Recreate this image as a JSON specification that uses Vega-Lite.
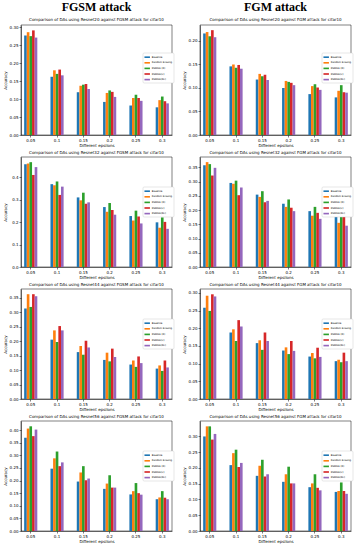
{
"$schema": "https://vega.github.io/schema/vega-lite/v6.json",
"padding": {"left": 2, "top": 0, "right": 0, "bottom": 0},
"datasets": {
"p1": [
{"e":"0.05","k":"Baseline","v":0.277},{"e":"0.05","k":"Random Erasing","v":0.286},{"e":"0.05","k":"RSMDA (R)","v":0.275},{"e":"0.05","k":"RSMDA(C)","v":0.291},{"e":"0.05","k":"RSMDA(RC)","v":0.271},
{"e":"0.1","k":"Baseline","v":0.162},{"e":"0.1","k":"Random Erasing","v":0.180},{"e":"0.1","k":"RSMDA (R)","v":0.170},{"e":"0.1","k":"RSMDA(C)","v":0.182},{"e":"0.1","k":"RSMDA(RC)","v":0.166},
{"e":"0.15","k":"Baseline","v":0.119},{"e":"0.15","k":"Random Erasing","v":0.137},{"e":"0.15","k":"RSMDA (R)","v":0.140},{"e":"0.15","k":"RSMDA(C)","v":0.142},{"e":"0.15","k":"RSMDA(RC)","v":0.128},
{"e":"0.2","k":"Baseline","v":0.092},{"e":"0.2","k":"Random Erasing","v":0.117},{"e":"0.2","k":"RSMDA (R)","v":0.124},{"e":"0.2","k":"RSMDA(C)","v":0.120},{"e":"0.2","k":"RSMDA(RC)","v":0.106},
{"e":"0.25","k":"Baseline","v":0.082},{"e":"0.25","k":"Random Erasing","v":0.103},{"e":"0.25","k":"RSMDA (R)","v":0.112},{"e":"0.25","k":"RSMDA(C)","v":0.103},{"e":"0.25","k":"RSMDA(RC)","v":0.095},
{"e":"0.3","k":"Baseline","v":0.077},{"e":"0.3","k":"Random Erasing","v":0.097},{"e":"0.3","k":"RSMDA (R)","v":0.107},{"e":"0.3","k":"RSMDA(C)","v":0.094},{"e":"0.3","k":"RSMDA(RC)","v":0.088}
],
"p2": [
{"e":"0.05","k":"Baseline","v":0.216},{"e":"0.05","k":"Random Erasing","v":0.219},{"e":"0.05","k":"RSMDA (R)","v":0.210},{"e":"0.05","k":"RSMDA(C)","v":0.223},{"e":"0.05","k":"RSMDA(RC)","v":0.208},
{"e":"0.1","k":"Baseline","v":0.146},{"e":"0.1","k":"Random Erasing","v":0.150},{"e":"0.1","k":"RSMDA (R)","v":0.143},{"e":"0.1","k":"RSMDA(C)","v":0.149},{"e":"0.1","k":"RSMDA(RC)","v":0.141},
{"e":"0.15","k":"Baseline","v":0.118},{"e":"0.15","k":"Random Erasing","v":0.130},{"e":"0.15","k":"RSMDA (R)","v":0.125},{"e":"0.15","k":"RSMDA(C)","v":0.128},{"e":"0.15","k":"RSMDA(RC)","v":0.117},
{"e":"0.2","k":"Baseline","v":0.100},{"e":"0.2","k":"Random Erasing","v":0.115},{"e":"0.2","k":"RSMDA (R)","v":0.113},{"e":"0.2","k":"RSMDA(C)","v":0.111},{"e":"0.2","k":"RSMDA(RC)","v":0.106},
{"e":"0.25","k":"Baseline","v":0.087},{"e":"0.25","k":"Random Erasing","v":0.104},{"e":"0.25","k":"RSMDA (R)","v":0.108},{"e":"0.25","k":"RSMDA(C)","v":0.101},{"e":"0.25","k":"RSMDA(RC)","v":0.096},
{"e":"0.3","k":"Baseline","v":0.080},{"e":"0.3","k":"Random Erasing","v":0.094},{"e":"0.3","k":"RSMDA (R)","v":0.106},{"e":"0.3","k":"RSMDA(C)","v":0.091},{"e":"0.3","k":"RSMDA(RC)","v":0.090}
],
"p3": [
{"e":"0.05","k":"Baseline","v":0.458},{"e":"0.05","k":"Random Erasing","v":0.461},{"e":"0.05","k":"RSMDA (R)","v":0.467},{"e":"0.05","k":"RSMDA(C)","v":0.410},{"e":"0.05","k":"RSMDA(RC)","v":0.445},
{"e":"0.1","k":"Baseline","v":0.369},{"e":"0.1","k":"Random Erasing","v":0.364},{"e":"0.1","k":"RSMDA (R)","v":0.381},{"e":"0.1","k":"RSMDA(C)","v":0.321},{"e":"0.1","k":"RSMDA(RC)","v":0.358},
{"e":"0.15","k":"Baseline","v":0.310},{"e":"0.15","k":"Random Erasing","v":0.297},{"e":"0.15","k":"RSMDA (R)","v":0.331},{"e":"0.15","k":"RSMDA(C)","v":0.282},{"e":"0.15","k":"RSMDA(RC)","v":0.288},
{"e":"0.2","k":"Baseline","v":0.267},{"e":"0.2","k":"Random Erasing","v":0.246},{"e":"0.2","k":"RSMDA (R)","v":0.285},{"e":"0.2","k":"RSMDA(C)","v":0.254},{"e":"0.2","k":"RSMDA(RC)","v":0.233},
{"e":"0.25","k":"Baseline","v":0.227},{"e":"0.25","k":"Random Erasing","v":0.207},{"e":"0.25","k":"RSMDA (R)","v":0.251},{"e":"0.25","k":"RSMDA(C)","v":0.225},{"e":"0.25","k":"RSMDA(RC)","v":0.194},
{"e":"0.3","k":"Baseline","v":0.199},{"e":"0.3","k":"Random Erasing","v":0.175},{"e":"0.3","k":"RSMDA (R)","v":0.221},{"e":"0.3","k":"RSMDA(C)","v":0.201},{"e":"0.3","k":"RSMDA(RC)","v":0.170}
],
"p4": [
{"e":"0.05","k":"Baseline","v":0.357},{"e":"0.05","k":"Random Erasing","v":0.368},{"e":"0.05","k":"RSMDA (R)","v":0.361},{"e":"0.05","k":"RSMDA(C)","v":0.321},{"e":"0.05","k":"RSMDA(RC)","v":0.348},
{"e":"0.1","k":"Baseline","v":0.295},{"e":"0.1","k":"Random Erasing","v":0.292},{"e":"0.1","k":"RSMDA (R)","v":0.303},{"e":"0.1","k":"RSMDA(C)","v":0.252},{"e":"0.1","k":"RSMDA(RC)","v":0.279},
{"e":"0.15","k":"Baseline","v":0.254},{"e":"0.15","k":"Random Erasing","v":0.246},{"e":"0.15","k":"RSMDA (R)","v":0.266},{"e":"0.15","k":"RSMDA(C)","v":0.227},{"e":"0.15","k":"RSMDA(RC)","v":0.232},
{"e":"0.2","k":"Baseline","v":0.222},{"e":"0.2","k":"Random Erasing","v":0.211},{"e":"0.2","k":"RSMDA (R)","v":0.237},{"e":"0.2","k":"RSMDA(C)","v":0.208},{"e":"0.2","k":"RSMDA(RC)","v":0.196},
{"e":"0.25","k":"Baseline","v":0.196},{"e":"0.25","k":"Random Erasing","v":0.180},{"e":"0.25","k":"RSMDA (R)","v":0.211},{"e":"0.25","k":"RSMDA(C)","v":0.190},{"e":"0.25","k":"RSMDA(RC)","v":0.169},
{"e":"0.3","k":"Baseline","v":0.176},{"e":"0.3","k":"Random Erasing","v":0.155},{"e":"0.3","k":"RSMDA (R)","v":0.185},{"e":"0.3","k":"RSMDA(C)","v":0.178},{"e":"0.3","k":"RSMDA(RC)","v":0.145}
],
"p5": [
{"e":"0.05","k":"Baseline","v":0.313},{"e":"0.05","k":"Random Erasing","v":0.362},{"e":"0.05","k":"RSMDA (R)","v":0.318},{"e":"0.05","k":"RSMDA(C)","v":0.362},{"e":"0.05","k":"RSMDA(RC)","v":0.355},
{"e":"0.1","k":"Baseline","v":0.205},{"e":"0.1","k":"Random Erasing","v":0.237},{"e":"0.1","k":"RSMDA (R)","v":0.197},{"e":"0.1","k":"RSMDA(C)","v":0.252},{"e":"0.1","k":"RSMDA(RC)","v":0.237},
{"e":"0.15","k":"Baseline","v":0.162},{"e":"0.15","k":"Random Erasing","v":0.183},{"e":"0.15","k":"RSMDA (R)","v":0.153},{"e":"0.15","k":"RSMDA(C)","v":0.201},{"e":"0.15","k":"RSMDA(RC)","v":0.178},
{"e":"0.2","k":"Baseline","v":0.135},{"e":"0.2","k":"Random Erasing","v":0.160},{"e":"0.2","k":"RSMDA (R)","v":0.130},{"e":"0.2","k":"RSMDA(C)","v":0.174},{"e":"0.2","k":"RSMDA(RC)","v":0.145},
{"e":"0.25","k":"Baseline","v":0.119},{"e":"0.25","k":"Random Erasing","v":0.133},{"e":"0.25","k":"RSMDA (R)","v":0.111},{"e":"0.25","k":"RSMDA(C)","v":0.147},{"e":"0.25","k":"RSMDA(RC)","v":0.124},
{"e":"0.3","k":"Baseline","v":0.105},{"e":"0.3","k":"Random Erasing","v":0.116},{"e":"0.3","k":"RSMDA (R)","v":0.097},{"e":"0.3","k":"RSMDA(C)","v":0.133},{"e":"0.3","k":"RSMDA(RC)","v":0.109}
],
"p6": [
{"e":"0.05","k":"Baseline","v":0.258},{"e":"0.05","k":"Random Erasing","v":0.292},{"e":"0.05","k":"RSMDA (R)","v":0.249},{"e":"0.05","k":"RSMDA(C)","v":0.296},{"e":"0.05","k":"RSMDA(RC)","v":0.290},
{"e":"0.1","k":"Baseline","v":0.188},{"e":"0.1","k":"Random Erasing","v":0.197},{"e":"0.1","k":"RSMDA (R)","v":0.164},{"e":"0.1","k":"RSMDA(C)","v":0.223},{"e":"0.1","k":"RSMDA(RC)","v":0.205},
{"e":"0.15","k":"Baseline","v":0.158},{"e":"0.15","k":"Random Erasing","v":0.166},{"e":"0.15","k":"RSMDA (R)","v":0.139},{"e":"0.15","k":"RSMDA(C)","v":0.188},{"e":"0.15","k":"RSMDA(RC)","v":0.164},
{"e":"0.2","k":"Baseline","v":0.137},{"e":"0.2","k":"Random Erasing","v":0.146},{"e":"0.2","k":"RSMDA (R)","v":0.127},{"e":"0.2","k":"RSMDA(C)","v":0.164},{"e":"0.2","k":"RSMDA(RC)","v":0.136},
{"e":"0.25","k":"Baseline","v":0.120},{"e":"0.25","k":"Random Erasing","v":0.130},{"e":"0.25","k":"RSMDA (R)","v":0.115},{"e":"0.25","k":"RSMDA(C)","v":0.145},{"e":"0.25","k":"RSMDA(RC)","v":0.119},
{"e":"0.3","k":"Baseline","v":0.107},{"e":"0.3","k":"Random Erasing","v":0.111},{"e":"0.3","k":"RSMDA (R)","v":0.104},{"e":"0.3","k":"RSMDA(C)","v":0.131},{"e":"0.3","k":"RSMDA(RC)","v":0.107}
],
"p7": [
{"e":"0.05","k":"Baseline","v":0.370},{"e":"0.05","k":"Random Erasing","v":0.406},{"e":"0.05","k":"RSMDA (R)","v":0.415},{"e":"0.05","k":"RSMDA(C)","v":0.376},{"e":"0.05","k":"RSMDA(RC)","v":0.402},
{"e":"0.1","k":"Baseline","v":0.247},{"e":"0.1","k":"Random Erasing","v":0.288},{"e":"0.1","k":"RSMDA (R)","v":0.315},{"e":"0.1","k":"RSMDA(C)","v":0.257},{"e":"0.1","k":"RSMDA(RC)","v":0.272},
{"e":"0.15","k":"Baseline","v":0.196},{"e":"0.15","k":"Random Erasing","v":0.232},{"e":"0.15","k":"RSMDA (R)","v":0.257},{"e":"0.15","k":"RSMDA(C)","v":0.201},{"e":"0.15","k":"RSMDA(RC)","v":0.208},
{"e":"0.2","k":"Baseline","v":0.167},{"e":"0.2","k":"Random Erasing","v":0.188},{"e":"0.2","k":"RSMDA (R)","v":0.221},{"e":"0.2","k":"RSMDA(C)","v":0.172},{"e":"0.2","k":"RSMDA(RC)","v":0.172},
{"e":"0.25","k":"Baseline","v":0.145},{"e":"0.25","k":"Random Erasing","v":0.158},{"e":"0.25","k":"RSMDA (R)","v":0.190},{"e":"0.25","k":"RSMDA(C)","v":0.150},{"e":"0.25","k":"RSMDA(RC)","v":0.144},
{"e":"0.3","k":"Baseline","v":0.126},{"e":"0.3","k":"Random Erasing","v":0.133},{"e":"0.3","k":"RSMDA (R)","v":0.158},{"e":"0.3","k":"RSMDA(C)","v":0.132},{"e":"0.3","k":"RSMDA(RC)","v":0.126}
],
"p8": [
{"e":"0.05","k":"Baseline","v":0.300},{"e":"0.05","k":"Random Erasing","v":0.332},{"e":"0.05","k":"RSMDA (R)","v":0.332},{"e":"0.05","k":"RSMDA(C)","v":0.290},{"e":"0.05","k":"RSMDA(RC)","v":0.308},
{"e":"0.1","k":"Baseline","v":0.209},{"e":"0.1","k":"Random Erasing","v":0.247},{"e":"0.1","k":"RSMDA (R)","v":0.258},{"e":"0.1","k":"RSMDA(C)","v":0.203},{"e":"0.1","k":"RSMDA(RC)","v":0.216},
{"e":"0.15","k":"Baseline","v":0.175},{"e":"0.15","k":"Random Erasing","v":0.207},{"e":"0.15","k":"RSMDA (R)","v":0.226},{"e":"0.15","k":"RSMDA(C)","v":0.173},{"e":"0.15","k":"RSMDA(RC)","v":0.180},
{"e":"0.2","k":"Baseline","v":0.156},{"e":"0.2","k":"Random Erasing","v":0.180},{"e":"0.2","k":"RSMDA (R)","v":0.204},{"e":"0.2","k":"RSMDA(C)","v":0.151},{"e":"0.2","k":"RSMDA(RC)","v":0.151},
{"e":"0.25","k":"Baseline","v":0.139},{"e":"0.25","k":"Random Erasing","v":0.151},{"e":"0.25","k":"RSMDA (R)","v":0.180},{"e":"0.25","k":"RSMDA(C)","v":0.137},{"e":"0.25","k":"RSMDA(RC)","v":0.129},
{"e":"0.3","k":"Baseline","v":0.124},{"e":"0.3","k":"Random Erasing","v":0.127},{"e":"0.3","k":"RSMDA (R)","v":0.154},{"e":"0.3","k":"RSMDA(C)","v":0.127},{"e":"0.3","k":"RSMDA(RC)","v":0.118}
]
},
"spacing": 2,
"resolve": {"scale": {"color": "independent"}, "legend": {"color": "independent"}},
"vconcat": [
{"hconcat": [
{"data": {"name": "p1"}, "width": 151, "height": 110,
 "title": {"text": "FGSM attack", "subtitle": "Comparison of DAs using Resnet20 against FGSM attack for cifar10", "font": "Liberation Serif", "fontSize": 12, "fontWeight": "bold", "subtitleFont": "DejaVu Sans", "subtitleFontSize": 4, "subtitleColor": "black", "subtitlePadding": 4, "offset": 2},
 "mark": "bar",
 "encoding": {
  "x": {"field": "e", "type": "ordinal", "sort": ["0.05","0.1","0.15","0.2","0.25","0.3"], "scale": {"paddingInner": 0.5, "paddingOuter": 0.12}, "axis": {"title": "Different epsilons", "labelAngle": 0}},
  "xOffset": {"field": "k", "type": "nominal", "sort": ["Baseline","Random Erasing","RSMDA (R)","RSMDA(C)","RSMDA(RC)"], "scale": {"paddingInner": 0}},
  "y": {"field": "v", "type": "quantitative", "scale": {"domain": [0, 0.306], "nice": false}, "axis": {"title": "Accuracy", "values": [0,0.05,0.1,0.15,0.2,0.25,0.3], "format": ".2f"}},
  "color": {"field": "k", "type": "nominal", "scale": {"domain": ["Baseline","Random Erasing","RSMDA (R)","RSMDA(C)","RSMDA(RC)"], "range": ["#1f77b4","#ff7f0e","#2ca02c","#d62728","#9467bd"]}, "legend": {"title": null, "orient": "none", "legendX": 122, "legendY": 28}}
 }},
{"data": {"name": "p2"}, "width": 151, "height": 110,
 "title": {"text": "FGM attack", "subtitle": "Comparison of DAs using Resnet20 against FGM attack for cifar10", "font": "Liberation Serif", "fontSize": 12, "fontWeight": "bold", "subtitleFont": "DejaVu Sans", "subtitleFontSize": 4, "subtitleColor": "black", "subtitlePadding": 4, "offset": 2},
 "mark": "bar",
 "encoding": {
  "x": {"field": "e", "type": "ordinal", "sort": ["0.05","0.1","0.15","0.2","0.25","0.3"], "scale": {"paddingInner": 0.5, "paddingOuter": 0.12}, "axis": {"title": "Different epsilons", "labelAngle": 0}},
  "xOffset": {"field": "k", "type": "nominal", "sort": ["Baseline","Random Erasing","RSMDA (R)","RSMDA(C)","RSMDA(RC)"], "scale": {"paddingInner": 0}},
  "y": {"field": "v", "type": "quantitative", "scale": {"domain": [0, 0.234], "nice": false}, "axis": {"title": "Accuracy", "values": [0,0.05,0.1,0.15,0.2], "format": ".2f"}},
  "color": {"field": "k", "type": "nominal", "scale": {"domain": ["Baseline","Random Erasing","RSMDA (R)","RSMDA(C)","RSMDA(RC)"], "range": ["#1f77b4","#ff7f0e","#2ca02c","#d62728","#9467bd"]}, "legend": {"title": null, "orient": "none", "legendX": 122, "legendY": 28}}
 }}
], "spacing": 6, "resolve": {"scale": {"color": "independent"}, "legend": {"color": "independent"}}},
{"hconcat": [
{"data": {"name": "p3"}, "width": 151, "height": 110,
 "title": "Comparison of DAs using Resnet32 against FGSM attack for cifar10",
 "mark": "bar",
 "encoding": {
  "x": {"field": "e", "type": "ordinal", "sort": ["0.05","0.1","0.15","0.2","0.25","0.3"], "scale": {"paddingInner": 0.5, "paddingOuter": 0.12}, "axis": {"title": "Different epsilons", "labelAngle": 0}},
  "xOffset": {"field": "k", "type": "nominal", "sort": ["Baseline","Random Erasing","RSMDA (R)","RSMDA(C)","RSMDA(RC)"], "scale": {"paddingInner": 0}},
  "y": {"field": "v", "type": "quantitative", "scale": {"domain": [0, 0.49], "nice": false}, "axis": {"title": "Accuracy", "values": [0,0.1,0.2,0.3,0.4], "format": ".1f"}},
  "color": {"field": "k", "type": "nominal", "scale": {"domain": ["Baseline","Random Erasing","RSMDA (R)","RSMDA(C)","RSMDA(RC)"], "range": ["#1f77b4","#ff7f0e","#2ca02c","#d62728","#9467bd"]}, "legend": {"title": null, "orient": "none", "legendX": 122, "legendY": 30}}
 }},
{"data": {"name": "p4"}, "width": 151, "height": 110,
 "title": "Comparison of DAs using Resnet32 against FGM attack for cifar10",
 "mark": "bar",
 "encoding": {
  "x": {"field": "e", "type": "ordinal", "sort": ["0.05","0.1","0.15","0.2","0.25","0.3"], "scale": {"paddingInner": 0.5, "paddingOuter": 0.12}, "axis": {"title": "Different epsilons", "labelAngle": 0}},
  "xOffset": {"field": "k", "type": "nominal", "sort": ["Baseline","Random Erasing","RSMDA (R)","RSMDA(C)","RSMDA(RC)"], "scale": {"paddingInner": 0}},
  "y": {"field": "v", "type": "quantitative", "scale": {"domain": [0, 0.386], "nice": false}, "axis": {"title": "Accuracy", "values": [0,0.05,0.1,0.15,0.2,0.25,0.3,0.35], "format": ".2f"}},
  "color": {"field": "k", "type": "nominal", "scale": {"domain": ["Baseline","Random Erasing","RSMDA (R)","RSMDA(C)","RSMDA(RC)"], "range": ["#1f77b4","#ff7f0e","#2ca02c","#d62728","#9467bd"]}, "legend": {"title": null, "orient": "none", "legendX": 122, "legendY": 30}}
 }}
], "spacing": 6, "resolve": {"scale": {"color": "independent"}, "legend": {"color": "independent"}}},
{"hconcat": [
{"data": {"name": "p5"}, "width": 151, "height": 110,
 "title": "Comparison of DAs using Resnet44 against FGSM attack for cifar10",
 "mark": "bar",
 "encoding": {
  "x": {"field": "e", "type": "ordinal", "sort": ["0.05","0.1","0.15","0.2","0.25","0.3"], "scale": {"paddingInner": 0.5, "paddingOuter": 0.12}, "axis": {"title": "Different epsilons", "labelAngle": 0}},
  "xOffset": {"field": "k", "type": "nominal", "sort": ["Baseline","Random Erasing","RSMDA (R)","RSMDA(C)","RSMDA(RC)"], "scale": {"paddingInner": 0}},
  "y": {"field": "v", "type": "quantitative", "scale": {"domain": [0, 0.38], "nice": false}, "axis": {"title": "Accuracy", "values": [0,0.05,0.1,0.15,0.2,0.25,0.3,0.35], "format": ".2f"}},
  "color": {"field": "k", "type": "nominal", "scale": {"domain": ["Baseline","Random Erasing","RSMDA (R)","RSMDA(C)","RSMDA(RC)"], "range": ["#1f77b4","#ff7f0e","#2ca02c","#d62728","#9467bd"]}, "legend": {"title": null, "orient": "none", "legendX": 122, "legendY": 30}}
 }},
{"data": {"name": "p6"}, "width": 151, "height": 110,
 "title": "Comparison of DAs using Resnet44 against FGM attack for cifar10",
 "mark": "bar",
 "encoding": {
  "x": {"field": "e", "type": "ordinal", "sort": ["0.05","0.1","0.15","0.2","0.25","0.3"], "scale": {"paddingInner": 0.5, "paddingOuter": 0.12}, "axis": {"title": "Different epsilons", "labelAngle": 0}},
  "xOffset": {"field": "k", "type": "nominal", "sort": ["Baseline","Random Erasing","RSMDA (R)","RSMDA(C)","RSMDA(RC)"], "scale": {"paddingInner": 0}},
  "y": {"field": "v", "type": "quantitative", "scale": {"domain": [0, 0.311], "nice": false}, "axis": {"title": "Accuracy", "values": [0,0.05,0.1,0.15,0.2,0.25,0.3], "format": ".2f"}},
  "color": {"field": "k", "type": "nominal", "scale": {"domain": ["Baseline","Random Erasing","RSMDA (R)","RSMDA(C)","RSMDA(RC)"], "range": ["#1f77b4","#ff7f0e","#2ca02c","#d62728","#9467bd"]}, "legend": {"title": null, "orient": "none", "legendX": 122, "legendY": 30}}
 }}
], "spacing": 6, "resolve": {"scale": {"color": "independent"}, "legend": {"color": "independent"}}},
{"hconcat": [
{"data": {"name": "p7"}, "width": 151, "height": 110,
 "title": "Comparison of DAs using Resnet56 against FGSM attack for cifar10",
 "mark": "bar",
 "encoding": {
  "x": {"field": "e", "type": "ordinal", "sort": ["0.05","0.1","0.15","0.2","0.25","0.3"], "scale": {"paddingInner": 0.5, "paddingOuter": 0.12}, "axis": {"title": "Different epsilons", "labelAngle": 0}},
  "xOffset": {"field": "k", "type": "nominal", "sort": ["Baseline","Random Erasing","RSMDA (R)","RSMDA(C)","RSMDA(RC)"], "scale": {"paddingInner": 0}},
  "y": {"field": "v", "type": "quantitative", "scale": {"domain": [0, 0.436], "nice": false}, "axis": {"title": "Accuracy", "values": [0,0.05,0.1,0.15,0.2,0.25,0.3,0.35,0.4], "format": ".2f"}},
  "color": {"field": "k", "type": "nominal", "scale": {"domain": ["Baseline","Random Erasing","RSMDA (R)","RSMDA(C)","RSMDA(RC)"], "range": ["#1f77b4","#ff7f0e","#2ca02c","#d62728","#9467bd"]}, "legend": {"title": null, "orient": "none", "legendX": 122, "legendY": 30}}
 }},
{"data": {"name": "p8"}, "width": 151, "height": 110,
 "title": "Comparison of DAs using Resnet56 against FGM attack for cifar10",
 "mark": "bar",
 "encoding": {
  "x": {"field": "e", "type": "ordinal", "sort": ["0.05","0.1","0.15","0.2","0.25","0.3"], "scale": {"paddingInner": 0.5, "paddingOuter": 0.12}, "axis": {"title": "Different epsilons", "labelAngle": 0}},
  "xOffset": {"field": "k", "type": "nominal", "sort": ["Baseline","Random Erasing","RSMDA (R)","RSMDA(C)","RSMDA(RC)"], "scale": {"paddingInner": 0}},
  "y": {"field": "v", "type": "quantitative", "scale": {"domain": [0, 0.349], "nice": false}, "axis": {"title": "Accuracy", "values": [0,0.05,0.1,0.15,0.2,0.25,0.3,0.35], "format": ".2f"}},
  "color": {"field": "k", "type": "nominal", "scale": {"domain": ["Baseline","Random Erasing","RSMDA (R)","RSMDA(C)","RSMDA(RC)"], "range": ["#1f77b4","#ff7f0e","#2ca02c","#d62728","#9467bd"]}, "legend": {"title": null, "orient": "none", "legendX": 122, "legendY": 30}}
 }}
], "spacing": 6, "resolve": {"scale": {"color": "independent"}, "legend": {"color": "independent"}}}
],
"config": {
 "background": "white",
 "view": {"stroke": "black", "strokeWidth": 0.5},
 "title": {"font": "DejaVu Sans", "fontSize": 4, "fontWeight": "normal", "color": "black", "offset": 2, "anchor": "middle"},
 "axis": {"labelFont": "DejaVu Sans", "titleFont": "DejaVu Sans", "labelFontSize": 4, "titleFontSize": 4, "titleFontWeight": "normal", "labelColor": "black", "titleColor": "black", "domainColor": "black", "domainWidth": 0.5, "tickColor": "black", "tickWidth": 0.5, "tickSize": 2, "labelPadding": 1, "titlePadding": 1, "grid": false},
 "axisY": {"minExtent": 12, "maxExtent": 12, "titlePadding": 2},
 "legend": {"symbolType": "M-1,-0.3H1V0.3H-1Z", "symbolSize": 30, "symbolStrokeWidth": 0, "labelFontSize": 2.5, "labelFont": "DejaVu Sans", "labelColor": "black", "rowPadding": 0.6, "padding": 1.2, "strokeColor": "#cccccc", "strokeWidth": 0.5, "fillColor": "white", "cornerRadius": 1, "labelOffset": 1.5, "labelLimit": 0}
}
}
